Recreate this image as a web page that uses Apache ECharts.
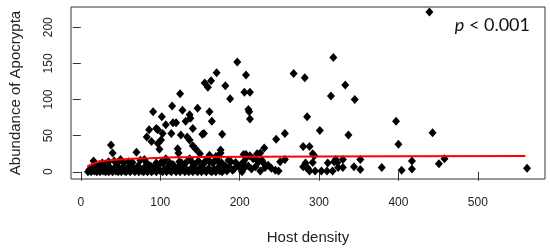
<!DOCTYPE html>
<html>
<head>
<meta charset="utf-8">
<script src="https://cdn.jsdelivr.net/npm/echarts@6/dist/echarts.min.js"></script>
<style>
html,body{margin:0;padding:0;background:#fff;}
#chart{width:550px;height:252px;}
</style>
</head>
<body>
<div id="chart"></div>
<script>
// Host density vs abundance of Apocrypta
const xTicks = [0, 100, 200, 300, 400, 500];
const yTicks = [0, 50, 100, 150, 200];

// upper / scattered points [host density, abundance]
const upperPoints = [
  [38,37],[40,26],[70,27],[83,48],[86,58],[89,42],[91,83],[95,60],[97,39],[97,58],[99,31],[101,44],[102,76],
  [103,53],[107,65],[114,53],[115,91],[116,68],[120,68],[122,32],[123,26],[125,108],[126,51],[128,85],[132,70],
  [134,48],[137,79],[137,44],[138,74],[141,60],[141,36],[145,31],[147,88],[150,25],[153,52],[155,53],[156,123],
  [160,117],[164,126],[162,83],[165,70],[162,23],[170,21],[171,137],[176,30],[176,26],[178,52],[182,119],[188,101],
  [197,152],[205,24],[208,24],[206,110],[208,134],[211,86],[213,110],[213,73],[212,83],[222,25],[226,26],[231,33],
  [246,45],[257,53],[268,136],[280,35],[282,130],[285,76],[288,35],[292,25],[294,22],[301,57],[315,105],
  [318,158],[333,120],[337,51],[345,100],[397,70],[400,38],[443,54],[439,221]
];

// dense band of low abundance points
const lowPoints = [
  [9,0],[11,3],[13,0],[15,5],[16,15],[17,1],[19,8],[20,0],[22,3],[23,10],[24,0],[26,6],[27,12],[28,1],[29,9],
  [31,0],[33,4],[35,0],[35,14],[36,7],[38,2],[40,0],[42,5],[42,15],[44,1],[46,8],[46,12],[47,0],[49,3],[50,17],
  [51,0],[53,6],[54,12],[55,1],[57,0],[59,4],[60,14],[61,8],[62,0],[64,2],[65,13],[66,5],[68,0],[70,3],[72,8],
  [73,0],[75,16],[75,4],[77,1],[79,0],[80,17],[80,6],[82,2],[83,12],[84,0],[86,4],[88,8],[89,0],[91,2],[93,6],
  [95,0],[95,12],[97,8],[99,2],[101,13],[103,0],[104,12],[105,4],[107,18],[108,0],[110,7],[112,12],[112,2],
  [114,0],[116,10],[118,3],[120,0],[122,6],[124,14],[125,0],[127,3],[127,12],[129,8],[131,0],[132,12],[134,2],
  [136,0],[137,18],[139,5],[141,0],[141,12],[143,9],[145,2],[147,0],[148,15],[150,5],[152,0],[154,10],[156,2],
  [156,14],[158,0],[160,17],[161,5],[162,14],[163,1],[165,0],[166,12],[168,3],[168,14],[170,0],[172,20],[173,6],
  [174,13],[175,1],[177,13],[178,0],[180,3],[182,8],[184,1],[186,16],[187,6],[189,14],[191,2],[193,4],[195,13],
  [199,7],[201,9],[203,0],[205,5],[205,14],[207,7],[209,20],[211,8],[213,22],[215,4],[217,18],[220,7],[222,16],
  [224,14],[226,1],[228,16],[230,12],[232,6],[236,9],[240,5],[245,2],[249,1],[251,14],[257,17],[280,7],[283,12],
  [284,6],[286,5],[288,1],[292,13],[295,1],[303,1],[310,1],[311,12],[317,1],[319,14],[321,17],[323,13],[324,6],
  [330,17],[330,6],[344,7],[352,17],[352,3],[379,6],[404,2],[417,15],[417,4],[451,11],[458,18],[562,5]
];

// fitted curve (red)
const fitX = [8, 12, 16, 20, 25, 31, 40, 50, 60, 72, 86, 88, 120, 160, 220, 300, 400, 560];
const fitY = [7, 9.5, 11.5, 13, 14.3, 15.2, 16.3, 17.1, 17.8, 18.4, 18.7, 19.8, 20.2, 20.5, 20.8, 21.1, 21.4, 21.7];

const fitData = fitX.map((x, i) => [x, fitY[i]]);
const allPoints = upperPoints.concat(lowPoints);

const textColor = '#222';
const chart = echarts.init(document.getElementById('chart'), null, {renderer: 'canvas'});
chart.setOption({
  animation: false,
  backgroundColor: '#fff',
  grid: {left: 65, right: 5, top: 7, bottom: 73, show: true, borderColor: '#333', borderWidth: 1, backgroundColor: 'transparent'},
  xAxis: {
    type: 'value', min: -12.4, max: 584.6,
    name: 'Host density', nameLocation: 'middle', nameGap: 51,
    nameTextStyle: {fontFamily: 'Liberation Sans', fontSize: 15, color: textColor},
    axisLine: {show: false},
    splitLine: {show: false},
    axisTick: {show: true, customValues: xTicks, length: 9, lineStyle: {color: '#333', width: 1}},
    axisLabel: {customValues: xTicks, margin: 18, fontFamily: 'Liberation Sans', fontSize: 12, color: textColor}
  },
  yAxis: {
    type: 'value', min: -10, max: 228,
    name: 'Abundance of Apocrypta', nameLocation: 'middle', nameGap: 48, nameRotate: 90,
    nameTextStyle: {fontFamily: 'Liberation Sans', fontSize: 15, color: textColor},
    axisLine: {show: false},
    splitLine: {show: false},
    axisTick: {show: true, customValues: yTicks, length: 8, lineStyle: {color: '#333', width: 1}},
    axisLabel: {customValues: yTicks, rotate: 90, margin: 16, fontFamily: 'Liberation Sans', fontSize: 12, color: textColor}
  },
  graphic: [{
    type: 'text', right: 20, top: 16,
    style: {
      text: '{i|p} < 0.001',
      rich: {i: {fontStyle: 'italic', fontFamily: 'Lato', fontSize: 18, fill: '#111'}},
      fontFamily: 'Lato', fontSize: 18, fill: '#111'
    }
  }],
  series: [
    {type: 'scatter', data: allPoints, symbol: 'diamond', symbolSize: [8, 9], itemStyle: {color: '#000', opacity: 1}, z: 2},
    {type: 'line', data: fitData, showSymbol: false, symbol: 'none', lineStyle: {color: '#ff0000', width: 2}, z: 3}
  ]
});
</script>
</body>
</html>
